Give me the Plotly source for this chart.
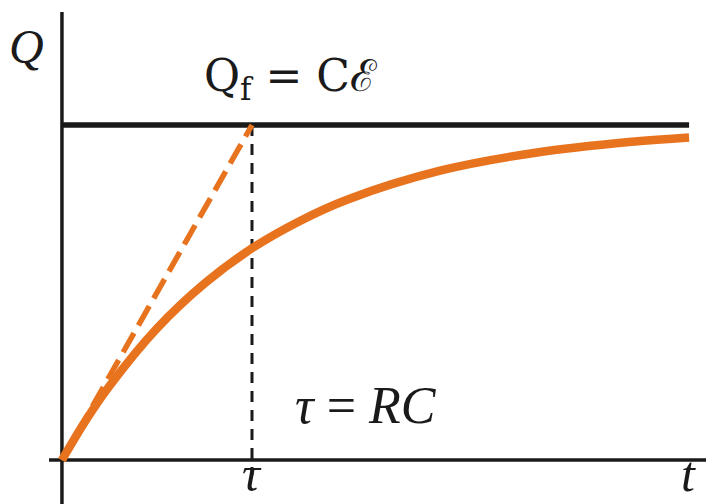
import plotly.graph_objects as go

# Charging capacitor: charge Q versus time t (units of tau, Qf)
tau = 1.0
q_final = 1.0
t_values = [0.0, 0.125, 0.25, 0.5, 0.75, 1.0, 1.25, 1.5, 2.0, 2.5, 3.0, 3.3]
q_values = [0.0, 0.118, 0.221, 0.393, 0.527, 0.632, 0.713, 0.777, 0.865, 0.918, 0.950, 0.963]

orange = "#E8731F"
black = "#1a1a1a"
serif = "DejaVu Serif, Liberation Serif, serif"
italic_serif = "Liberation Serif, DejaVu Serif, serif"

x_min, x_max = -0.326, 3.389
y_min, y_max = -0.131, 1.373

fig = go.Figure()

# axes
fig.add_trace(go.Scatter(x=[0, 0], y=[y_min, 1.337], mode="lines",
                         line=dict(color=black, width=3.5), hoverinfo="skip"))
fig.add_trace(go.Scatter(x=[-0.068, x_max], y=[0, 0], mode="lines",
                         line=dict(color=black, width=3.5), hoverinfo="skip"))

# final charge level
fig.add_trace(go.Scatter(x=[0, 3.3], y=[q_final, q_final], mode="lines",
                         line=dict(color=black, width=5.5), hoverinfo="skip"))

# time-constant marker
fig.add_trace(go.Scatter(x=[tau, tau], y=[q_final, -0.045], mode="lines",
                         line=dict(color=black, width=3, dash="11px,8px"), hoverinfo="skip"))

# initial-slope tangent
fig.add_trace(go.Scatter(x=[0, tau], y=[0, q_final], mode="lines",
                         line=dict(color=orange, width=5.5, dash="22px,9px"), hoverinfo="skip"))

# charging curve
fig.add_trace(go.Scatter(x=t_values, y=q_values, mode="lines", line_shape="spline",
                         line=dict(color=orange, width=8.5), hoverinfo="skip"))

annotations = [
    dict(x=-0.185, y=1.233, text="<i>Q</i>", font=dict(size=48, family=italic_serif),
         yanchor="middle"),
    dict(x=1.2, y=1.14, text="Q<sub>f</sub> = C\u2130", font=dict(size=44, family=serif),
         yanchor="middle"),
    dict(x=1.6, y=0.164, text="<i>\u03c4</i> = <i>RC</i>", font=dict(size=52, family=italic_serif),
         yanchor="middle"),
    # axis-end labels sit against the bottom edge
    dict(x=tau, y=y_min, text="<i>\u03c4</i>", font=dict(size=50, family=italic_serif),
         yanchor="bottom"),
    dict(x=3.295, y=y_min, text="<i>t</i>", font=dict(size=50, family=italic_serif),
         yanchor="bottom"),
]
for a in annotations:
    a.update(xref="x", yref="y", showarrow=False, xanchor="center")
    a["font"].update(color=black)

fig.update_layout(
    width=706, height=504,
    margin=dict(l=0, r=0, t=0, b=0),
    paper_bgcolor="white", plot_bgcolor="white",
    showlegend=False,
    annotations=annotations,
    xaxis=dict(range=[x_min, x_max], visible=False, fixedrange=True),
    yaxis=dict(range=[y_min, y_max], visible=False, fixedrange=True),
)

fig.write_html("out.html")
